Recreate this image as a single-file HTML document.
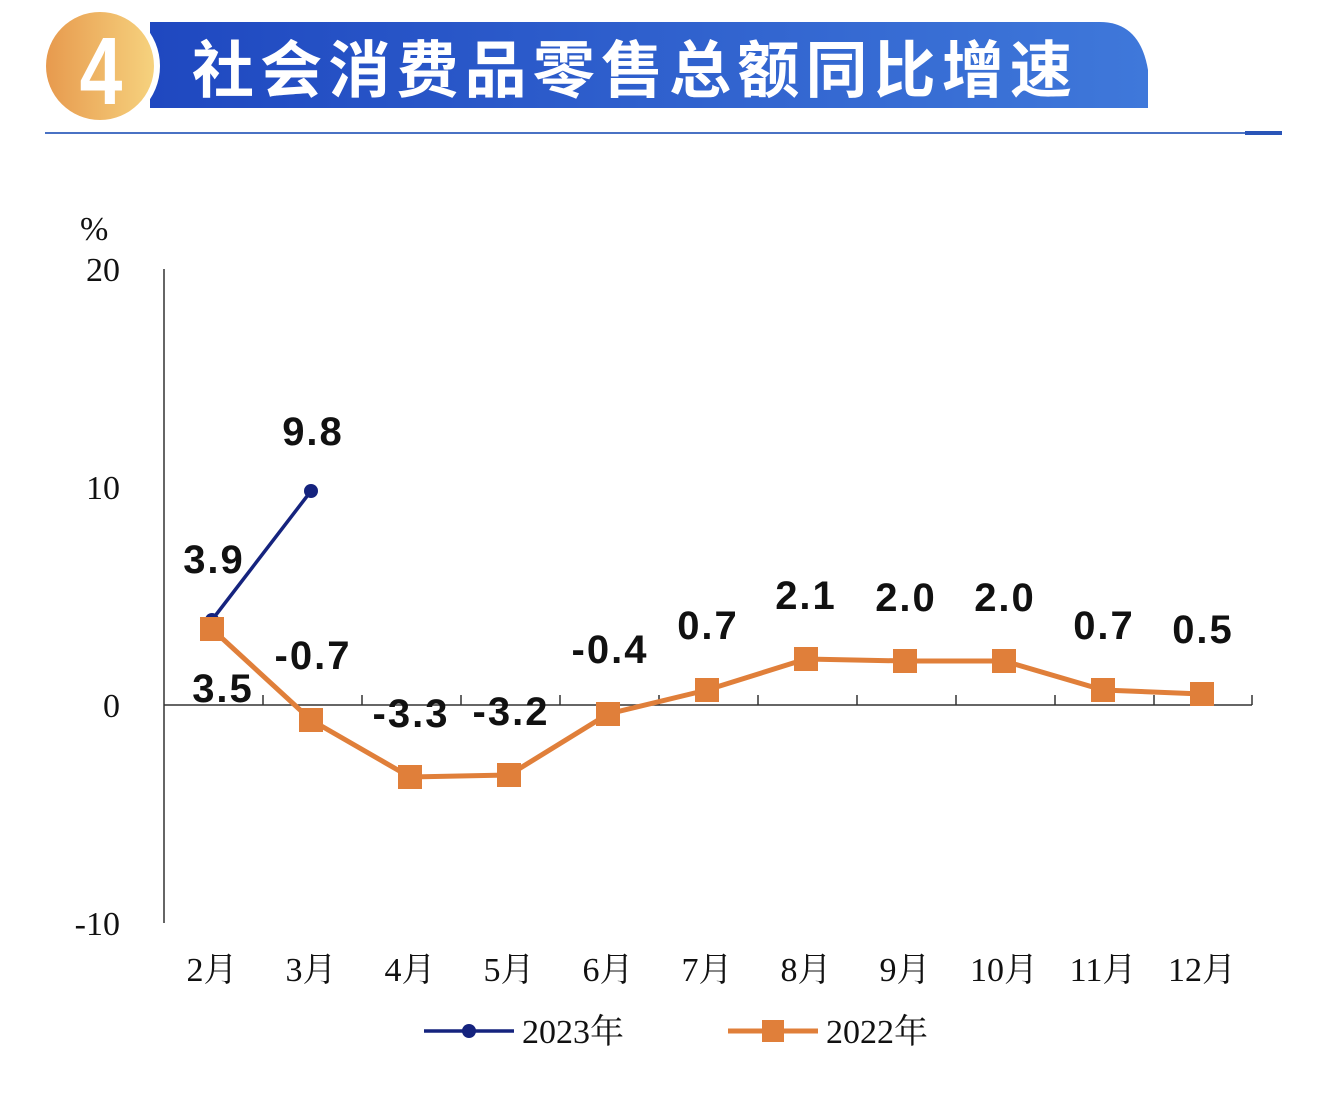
<!DOCTYPE html><html><head><meta charset="utf-8"><style>body{margin:0;background:#fff;width:1322px;height:1094px;overflow:hidden}</style></head><body>
<svg width="1322" height="1094" xmlns="http://www.w3.org/2000/svg">
<defs><linearGradient id="b" x1="0" x2="1"><stop offset="0" stop-color="#1f48c0"/><stop offset="1" stop-color="#3f78da"/></linearGradient>
<linearGradient id="o" x1="0" x2="1"><stop offset="0" stop-color="#e79a4e"/><stop offset="1" stop-color="#f6d27e"/></linearGradient></defs>
<path d="M150 22 H1100 Q1140 22 1148 70 V108 H150 Z" fill="url(#b)"/>
<circle cx="100" cy="66" r="60" fill="#fff"/>
<circle cx="100" cy="66" r="54" fill="url(#o)"/>
<text x="0" y="0" text-anchor="middle" font-family="Liberation Sans,sans-serif" font-weight="bold" font-size="96" fill="#fff" transform="translate(101 104) scale(0.8 1)">4</text>
<text x="192" y="92" font-family="'Noto Sans CJK SC',sans-serif" font-weight="bold" font-size="62" fill="#fff" textLength="880">社会消费品零售总额同比增速</text>
<rect x="45" y="132" width="1237" height="2" fill="#4a72c4"/>
<rect x="1245" y="131" width="37" height="4" fill="#2a55b8"/>
<g font-family="'Liberation Serif','Noto Serif CJK SC',serif" font-size="34" fill="#111">
<text x="80" y="240">%</text>
<text x="120" y="281" text-anchor="end">20</text>
<text x="120" y="499" text-anchor="end">10</text>
<text x="120" y="717" text-anchor="end">0</text>
<text x="120" y="935" text-anchor="end">-10</text>
<g text-anchor="middle"><text x="212" y="981">2月</text><text x="311" y="981">3月</text><text x="410" y="981">4月</text><text x="509" y="981">5月</text><text x="608" y="981">6月</text><text x="707" y="981">7月</text><text x="806" y="981">8月</text><text x="905" y="981">9月</text><text x="1004" y="981">10月</text><text x="1103" y="981">11月</text><text x="1202" y="981">12月</text></g>
<text x="522" y="1043">2023年</text><text x="826" y="1043">2022年</text>
</g>
<line x1="164" y1="269" x2="164" y2="923" stroke="#333" stroke-width="1.5"/>
<line x1="164" y1="705" x2="1252" y2="705" stroke="#333" stroke-width="1.5"/>
<g stroke="#333" stroke-width="1.5"><path d="M263 695V705M362 695V705M461 695V705M560 695V705M659 695V705M758 695V705M857 695V705M956 695V705M1055 695V705M1154 695V705M1252 695V705"/></g>
<polyline points="212,620 311,491" fill="none" stroke="#15237e" stroke-width="3.5"/>
<circle cx="212" cy="620" r="7" fill="#15237e"/><circle cx="311" cy="491" r="7" fill="#15237e"/>
<polyline points="212,629 311,720 410,777 509,775 608,714 707,690 806,659 905,661 1004,661 1103,690 1202,694" fill="none" stroke="#e07f3a" stroke-width="5"/>
<g fill="#e07f3a"><rect x="200" y="617" width="24" height="24"/><rect x="299" y="708" width="24" height="24"/><rect x="398" y="765" width="24" height="24"/><rect x="497" y="763" width="24" height="24"/><rect x="596" y="702" width="24" height="24"/><rect x="695" y="678" width="24" height="24"/><rect x="794" y="647" width="24" height="24"/><rect x="893" y="649" width="24" height="24"/><rect x="992" y="649" width="24" height="24"/><rect x="1091" y="678" width="24" height="24"/><rect x="1190" y="682" width="24" height="24"/></g>
<g font-family="'Liberation Sans',sans-serif" font-weight="bold" font-size="40" letter-spacing="2" fill="#111" text-anchor="middle">
<text x="313" y="445">9.8</text><text x="214" y="573">3.9</text><text x="223" y="702">3.5</text>
<text x="313" y="669">-0.7</text><text x="411" y="727">-3.3</text><text x="511" y="725">-3.2</text>
<text x="610" y="663">-0.4</text><text x="708" y="639">0.7</text><text x="806" y="609">2.1</text>
<text x="906" y="611">2.0</text><text x="1005" y="611">2.0</text><text x="1104" y="639">0.7</text><text x="1203" y="643">0.5</text>
</g>
<line x1="424" y1="1031" x2="514" y2="1031" stroke="#15237e" stroke-width="3.5"/><circle cx="469" cy="1031" r="7" fill="#15237e"/>
<line x1="728" y1="1031" x2="818" y2="1031" stroke="#e07f3a" stroke-width="5"/><rect x="762" y="1020" width="22" height="22" fill="#e07f3a"/>
</svg></body></html>
